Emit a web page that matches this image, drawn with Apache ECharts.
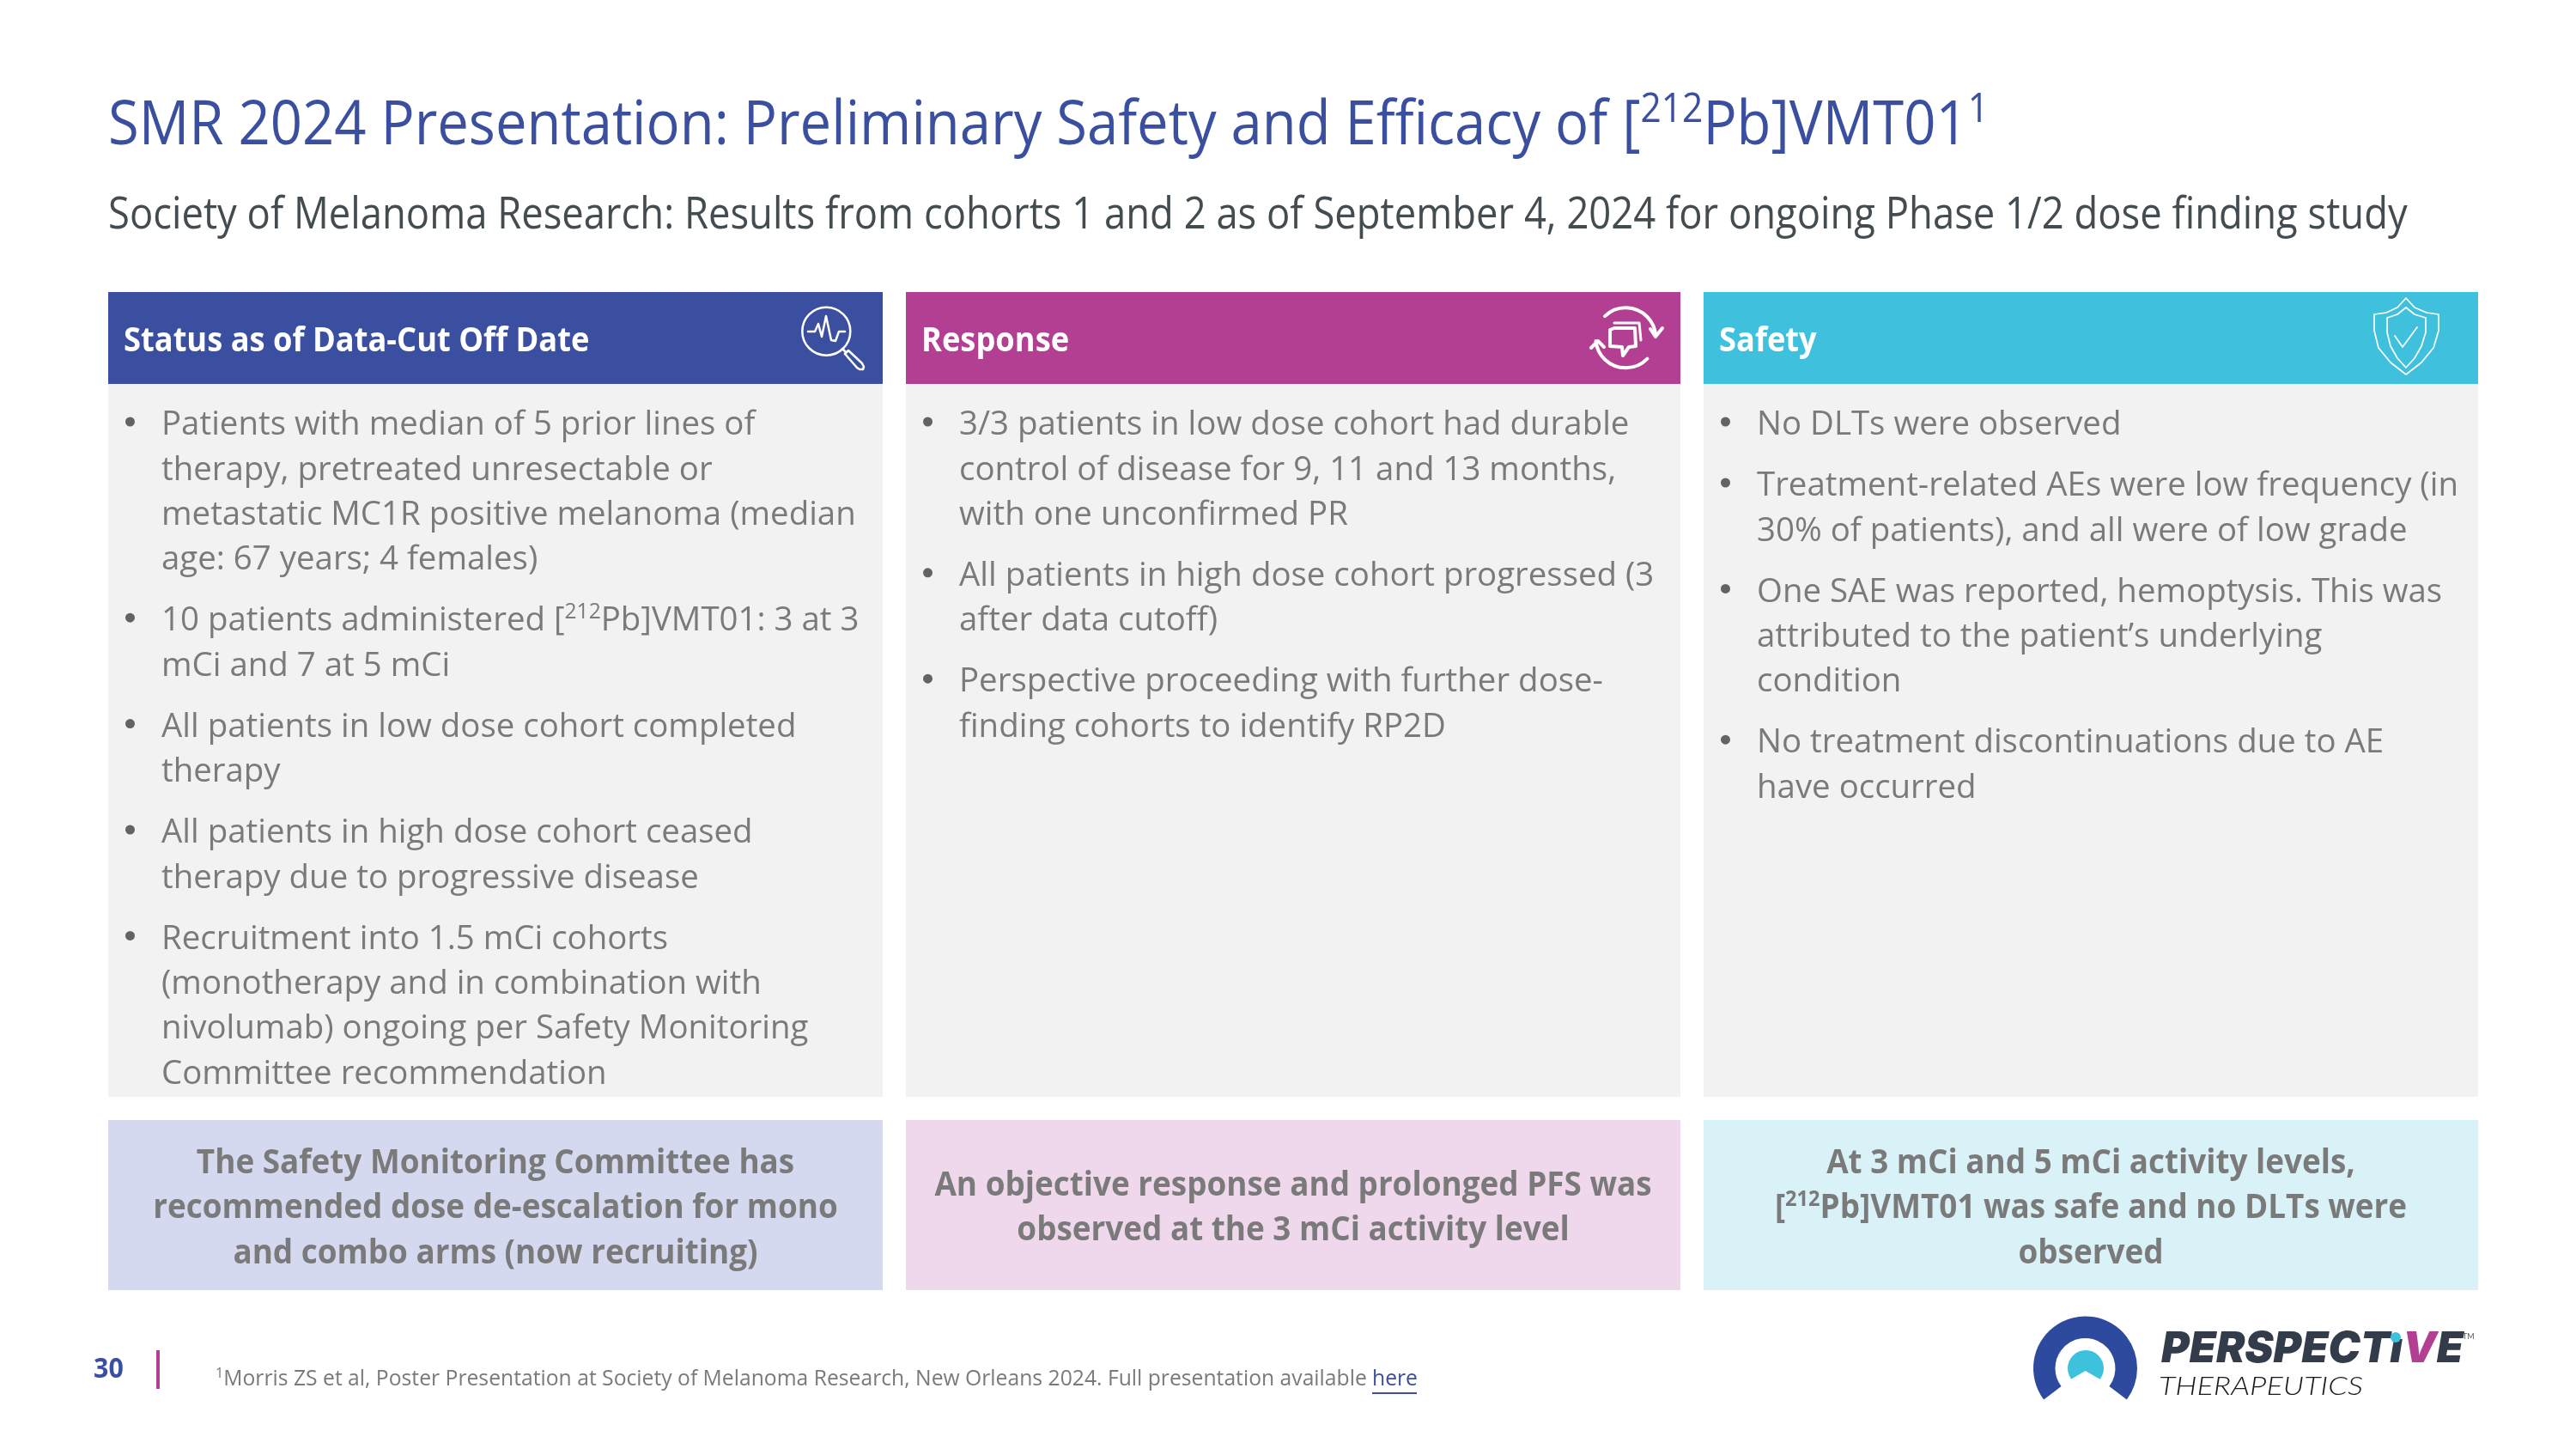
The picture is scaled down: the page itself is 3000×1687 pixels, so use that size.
<!DOCTYPE html>
<html>
<head>
<meta charset="utf-8">
<style>html,body{margin:0;padding:0;background:#fff}#container{width:3000px;height:1687px}</style>
</head>
<body>
<div id="container"></div>
<script src="https://cdn.jsdelivr.net/npm/echarts@6/dist/echarts.min.js"></script>
<script>
var titleText = 'SMR 2024 Presentation: Preliminary Safety and Efficacy of [{sup|212}Pb]VMT01{sup|1}';
var subtitleText = 'Society of Melanoma Research: Results from cohorts 1 and 2 as of September 4, 2024 for ongoing Phase 1/2 dose finding study';
var headers = ['Status as of Data-Cut Off Date', 'Response', 'Safety'];
var statusItems = [
    ['Patients with median of 5 prior lines of', 'therapy, pretreated unresectable or', 'metastatic MC1R positive melanoma (median', 'age: 67 years; 4 females)'],
    ['10 patients administered [{sup|212}Pb]VMT01: 3 at 3', 'mCi and 7 at 5 mCi'],
    ['All patients in low dose cohort completed', 'therapy'],
    ['All patients in high dose cohort ceased', 'therapy due to progressive disease'],
    ['Recruitment into 1.5 mCi cohorts', '(monotherapy and in combination with', 'nivolumab) ongoing per Safety Monitoring', 'Committee recommendation']
];
var responseItems = [
    ['3/3 patients in low dose cohort had durable', 'control of disease for 9, 11 and 13 months,', 'with one unconfirmed PR'],
    ['All patients in high dose cohort progressed (3', 'after data cutoff)'],
    ['Perspective proceeding with further dose-', 'finding cohorts to identify RP2D']
];
var safetyItems = [
    ['No DLTs were observed'],
    ['Treatment-related AEs were low frequency (in', '30% of patients), and all were of low grade'],
    ['One SAE was reported, hemoptysis. This was', 'attributed to the patient\u2019s underlying', 'condition'],
    ['No treatment discontinuations due to AE', 'have occurred']
];
var takeaways = [
    ['The Safety Monitoring Committee has', 'recommended dose de-escalation for mono', 'and combo arms (now recruiting)'],
    ['An objective response and prolonged PFS was', 'observed at the 3 mCi activity level'],
    ['At 3 mCi and 5 mCi activity levels,', '[{sup|212}Pb]VMT01 was safe and no DLTs were', 'observed']
];
var pageNumber = '30';
var footnote = '{sup|1}Morris ZS et al, Poster Presentation at Society of Melanoma Research, New Orleans 2024. Full presentation available ';
var footnoteLink = 'here';

var colX = [126, 1055, 1984];
var colW = 902;
var headColors = ['#3b4fa0', '#b23f92', '#3fc1dd'];
var boxColors = ['#d5d9ef', '#f0d8ec', '#d9f2f8'];
var bodyFont = 'Open Sans';
var textGrey = '#7a7a7a';
var white = '#ffffff';

var g = [];

// text helper: x, vertical centre, optional horizontal squeeze
function txt(text, x, y, o) {
    g.push({
        type: 'text', x: x, y: y, scaleX: o.sx || 1, originX: 0,
        style: {
            text: text, x: 0, y: 0, fill: o.color,
            fontFamily: o.font || bodyFont, fontSize: o.size, fontWeight: o.weight || 'normal', fontStyle: o.italic ? 'italic' : 'normal',
            align: o.align || 'left', verticalAlign: 'middle',
            rich: {sup: {fontFamily: o.font || bodyFont, fontSize: Math.round(o.size * 0.65), fontWeight: o.weight || 'normal', fill: o.color, verticalAlign: 'top', lineHeight: o.size * 1.15}}
        },
        z: 5
    });
}
function rect(x, y, w, h, fill) {
    g.push({type: 'rect', shape: {x: x, y: y, width: w, height: h}, style: {fill: fill}, z: 1});
}
function line(points, color, width, fill) {
    g.push({type: fill ? 'polygon' : 'polyline', shape: {points: points}, style: {stroke: fill ? null : color, fill: fill ? color : null, lineWidth: width, lineCap: 'round', lineJoin: 'round'}, z: 6});
}
function arc(cx, cy, r, a0, a1, color, width) {
    g.push({type: 'arc', shape: {cx: cx, cy: cy, r: r, startAngle: a0 * Math.PI / 180, endAngle: a1 * Math.PI / 180, clockwise: true}, style: {stroke: color, fill: null, lineWidth: width, lineCap: 'round'}, z: 6});
}

// title block
txt(titleText, 126, 147, {color: '#3b4fa0', size: 72, sx: 0.905});
txt(subtitleText, 126, 251, {color: '#434c50', size: 52, sx: 0.873});

// three columns
[statusItems, responseItems, safetyItems].forEach(function (paras, c) {
    rect(colX[c], 340, colW, 107, headColors[c]);
    rect(colX[c], 447, colW, 830, '#f2f2f2');
    rect(colX[c], 1304, colW, 198, boxColors[c]);
    txt(headers[c], colX[c] + 18, 398, {color: white, size: 39, weight: 'bold', sx: 0.93});
    var y = 495;
    paras.forEach(function (lines) {
        g.push({type: 'circle', shape: {cx: colX[c] + 25.5, cy: y - 4, r: 5.5}, style: {fill: '#636363'}, z: 5});
        lines.forEach(function (l, i) {
            txt(l, colX[c] + 62, y, {color: textGrey, size: 39, sx: 0.985});
            y += i === lines.length - 1 ? 71 : 52.4;
        });
    });
    var t = takeaways[c];
    var y0 = 1407 - (t.length - 1) * 26.2;
    t.forEach(function (l, i) {
        txt(l, colX[c] + colW / 2, y0 + i * 52.4, {color: textGrey, size: 39, weight: 'bold', align: 'center', sx: 0.945});
    });
});

// footer
txt(pageNumber, 109, 1595, {color: '#3b4fa0', size: 32, weight: 'bold', sx: 0.95});
rect(182, 1572, 4, 45, '#b23f92');
txt(footnote, 251, 1606, {color: textGrey, size: 26, sx: 0.95});
txt(footnoteLink, 1598, 1606, {color: '#3b4fa0', size: 26, sx: 0.95});
rect(1598, 1621, 52, 2, '#3b4fa0');

// magnifier icon
g.push({type: 'circle', shape: {cx: 962.3, cy: 385.7, r: 28}, style: {fill: null, stroke: white, lineWidth: 2.5}, z: 6});
line([[941, 386], [949, 386], [953, 377], [957, 392], [962, 368], [968, 396], [973, 397], [977, 386], [984, 386]], white, 2.5);
line([[981, 406], [985, 410]], white, 2.5);
line([[984, 412], [988, 408], [1004, 423], [1006, 427], [1005, 430], [1001, 430], [998, 428]], white, 2.5);
line([[998, 428], [984, 412]], white, 2.5);

// exchange icon
arc(1893.3, 393.3, 35, 226, 355, white, 4);
arc(1893.3, 393.3, 35, 44, 174, white, 4);
line([[1922, 383], [1928, 392], [1936, 382]], white, 4);
line([[1853, 405], [1861, 397], [1868, 404]], white, 4);
line([[1880, 382], [1904, 382], [1905, 403], [1897, 404], [1890, 414], [1889, 404], [1875, 403], [1875, 384], [1880, 382]], white, 4);
line([[1880, 376], [1909, 376], [1911, 396]], white, 3);

// shield icon
line([[2802, 347], [2812, 358], [2826, 364], [2840, 366], [2840, 385], [2834, 405], [2820, 422], [2802, 436], [2784, 422], [2770, 405], [2765, 385], [2765, 366], [2779, 364], [2792, 358], [2802, 347]], white, 1.7);
line([[2802, 358], [2812, 366], [2825, 370], [2825, 387], [2820, 403], [2812, 417], [2802, 428], [2792, 417], [2784, 403], [2780, 387], [2780, 370], [2792, 366], [2802, 358]], white, 1.7);
line([[2789, 391], [2798, 404], [2815, 381]], white, 1.7);

// logo
g.push({type: 'sector', shape: {cx: 2428.5, cy: 1593, r: 60.5, r0: 35, startAngle: 143 * Math.PI / 180, endAngle: 397 * Math.PI / 180, clockwise: true}, style: {fill: '#2d4a9e'}, z: 5});
g.push({type: 'circle', shape: {cx: 2429, cy: 1593, r: 21}, style: {fill: '#3ec1dc'}, z: 5});
line([[2411.6, 1606], [2428.6, 1596], [2446, 1606], [2450, 1618], [2408, 1618]], white, 0, true);
txt('PERSPECT{i|\u0131}{v|V}E', 2517, 1571, {color: '#333c4b', size: 50, weight: 900, italic: true, font: 'Inter'});
g[g.length - 1].style.rich.i = {fill: '#333c4b', fontFamily: 'Inter', fontSize: 50, fontWeight: 900, fontStyle: 'italic'};
g[g.length - 1].style.rich.v = {fill: '#b23f92', fontFamily: 'Inter', fontSize: 50, fontWeight: 900, fontStyle: 'italic'};
g.push({type: 'circle', shape: {cx: 2790, cy: 1557, r: 6}, style: {fill: '#3ec1dc'}, z: 7});
txt('THERAPEUTICS', 2514, 1614, {color: '#1a1a1a', size: 30, weight: 300, italic: true, font: 'Lato', sx: 1.2});
txt('TM', 2868, 1556, {color: '#555555', size: 9, font: 'Lato'});

var myChart = echarts.init(document.getElementById('container'), null, {renderer: 'canvas'});
myChart.setOption({animation: false, backgroundColor: '#ffffff', graphic: {elements: g}});
</script>
</body>
</html>
